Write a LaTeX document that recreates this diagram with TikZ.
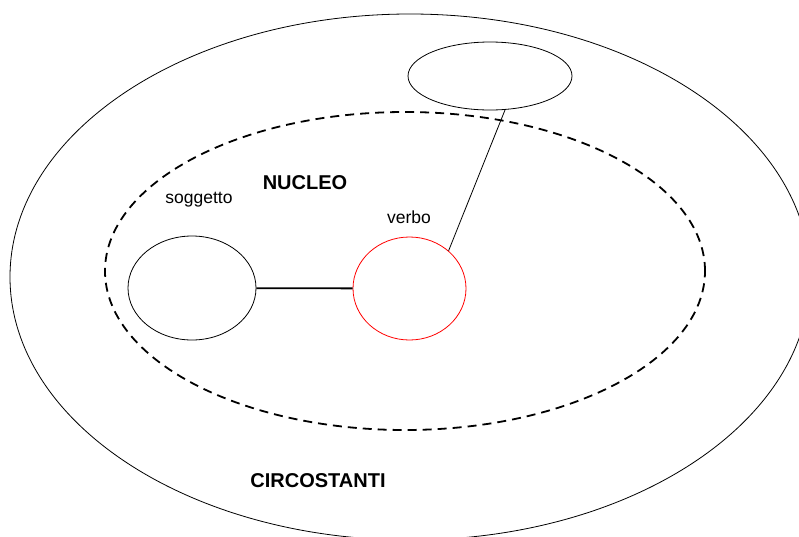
\documentclass[tikz,border=0pt]{standalone}
\usepackage{fontspec}
\setmainfont{Liberation Sans}
\usetikzlibrary{positioning, shapes.geometric}

\tikzset{
    cerchio/.style={ellipse, draw, inner sep=0pt, line width=0.8pt},
    nucleo/.style={ellipse, draw, inner sep=0pt, line width=1.8pt, dash pattern=on 9pt off 6pt},
    etichetta/.style={font=\fontsize{17.5}{20}\selectfont, inner sep=0pt},
    titolo/.style={font=\fontsize{20}{24}\selectfont\bfseries, inner sep=0pt}
}

\begin{document}
\begin{tikzpicture}[x=1pt, y=-1pt]
        \useasboundingbox (0,0) rectangle (799,536);
        \begin{scope}
        \clip (0,0) rectangle (799,536);
        \node[cerchio, minimum width=800pt, minimum height=526pt] (circ) at (410,277) {};
        \end{scope}
        \node[nucleo, minimum width=600pt, minimum height=318pt] (nuc) at (405,271) {};
        \node[cerchio, minimum width=128pt, minimum height=104pt] (sogg) at (192,288) {};
        \node[cerchio, draw=red, minimum width=113pt, minimum height=103pt] (verbo) at (409.5,288.5) {};
        \node[cerchio, minimum width=164pt, minimum height=68pt] (compl) at (490,76) {};

        \node[titolo] (lnuc) at (305,183) {NUCLEO};
        \node[etichetta] (lsogg) at (199,200) {soggetto};
        \node[etichetta] (lverbo) at (409,217) {verbo};
        \node[titolo] (lcirc) at (318,481) {CIRCOSTANTI};

        \draw[line width=1.8pt] (sogg) -- (verbo);
        \draw[line width=0.8pt] (compl.294) -- (verbo.44);
    \end{tikzpicture}
\end{document}
